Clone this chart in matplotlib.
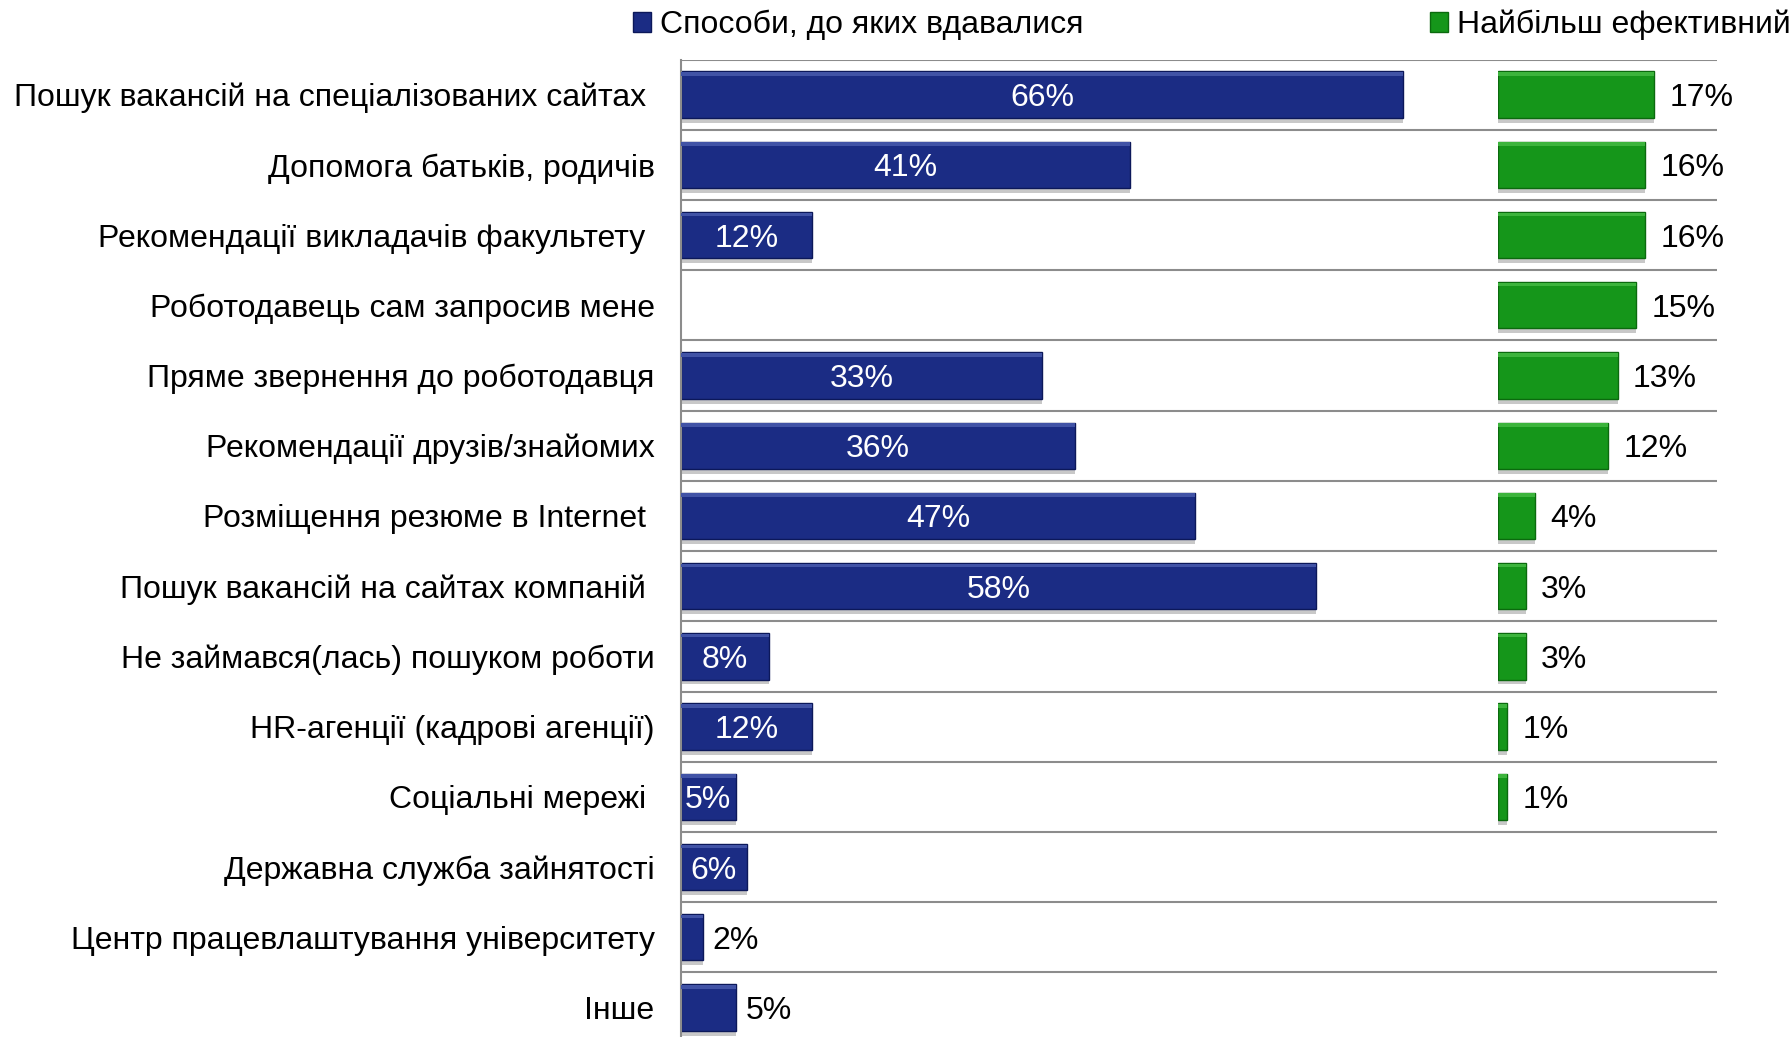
import matplotlib.pyplot as plt
import numpy as np

plt.rcParams["font.family"] = ["Liberation Sans", "DejaVu Sans"]

categories = [
    "Пошук вакансій на спеціалізованих сайтах ",
    "Допомога батьків, родичів",
    "Рекомендації викладачів факультету ",
    "Роботодавець сам запросив мене",
    "Пряме звернення до роботодавця",
    "Рекомендації друзів/знайомих",
    "Розміщення резюме в Internet ",
    "Пошук вакансій на сайтах компаній ",
    "Не займався(лась) пошуком роботи",
    "HR-агенції (кадрові агенції)",
    "Соціальні мережі ",
    "Державна служба зайнятості",
    "Центр працевлаштування університету",
    "Інше",
]
used = [66, 41, 12, np.nan, 33, 36, 47, 58, 8, 12, 5, 6, 2, 5]
best = [17, 16, 16, 15, 13, 12, 4, 3, 3, 1, 1, np.nan, np.nan, np.nan]
used_label = "Способи, до яких вдавалися"
best_label = "Найбільш ефективний"
# rows where the blue label sits outside the bar
outside = [12, 13]

blue = "#1b2c84"
blue_edge = "#0c185a"
green = "#15961a"
green_edge = "#0b6a0e"
grey = "#8c8c8c"
fs = 23

fig = plt.figure(figsize=(17.89, 10.37), dpi=100)
ax1 = fig.add_axes([681 / 1789, 0, 1036 / 1789, 1 - 59.5 / 1037])
ax2 = fig.add_axes([1498 / 1789, 0, 219 / 1789, 1 - 59.5 / 1037])

y = np.arange(len(categories))
h = 0.66

# shadows
ax1.barh(y + 0.07, used, height=h, color="#c8c8c8", zorder=1)
ax2.barh(y + 0.07, best, height=h, color="#c8c8c8", zorder=1)

b1 = ax1.barh(y, used, height=h, color=blue, edgecolor=blue_edge,
              linewidth=1, zorder=2, label=used_label)
b2 = ax2.barh(y, best, height=h, color=green, edgecolor=green_edge,
              linewidth=1, zorder=2, label=best_label)

# soft bevel on top edge
ax1.barh(y - h / 2 + 0.035, used, height=0.05, color="#4153a6", zorder=3)
ax2.barh(y - h / 2 + 0.035, best, height=0.05, color="#3cb43c", zorder=3)

for i, v in enumerate(used):
    if np.isnan(v):
        continue
    if i in outside:
        ax1.annotate(f"{v:.0f}%", (v, i), xytext=(7, 0), textcoords="offset points",
                     va="center_baseline", ha="left", fontsize=fs, color="black", zorder=4)
    else:
        ax1.text(v / 2, i, f"{v:.0f}%", va="center_baseline", ha="center",
                 fontsize=fs, color="white", zorder=4)

for i, v in enumerate(best):
    if np.isnan(v):
        continue
    ax2.annotate(f"{v:.0f}%", (v, i), xytext=(11, 0), textcoords="offset points",
                 va="center_baseline", ha="left", fontsize=fs, color="black", zorder=4)

ax1.set_xlim(0, 94.7)
ax1.set_ylim(13.42, -0.5)
ax2.set_xlim(0, 23.8)
ax2.set_ylim(13.42, -0.5)

for k in range(len(categories)):
    ax1.axhline(k - 0.5, color=grey, linewidth=1.5, zorder=0)

ax1.set_yticks(y)
ax1.set_yticklabels(categories, fontsize=fs)
ax1.tick_params(axis="y", length=0, pad=19)
ax1.set_xticks([])
for s in ["top", "right", "bottom"]:
    ax1.spines[s].set_visible(False)
ax1.spines["left"].set_color(grey)
ax1.spines["left"].set_linewidth(1.5)

ax2.axis("off")
ax2.patch.set_alpha(0)

ax1.legend(handles=[b1], loc="center left", bbox_to_anchor=(633 / 1789, 1 - 25 / 1037),
           bbox_transform=fig.transFigure, frameon=False, fontsize=fs,
           handlelength=0.55, handleheight=0.55, handletextpad=0.3,
           borderpad=0, borderaxespad=0)
ax2.legend(handles=[b2], loc="center left", bbox_to_anchor=(1430 / 1789, 1 - 25 / 1037),
           bbox_transform=fig.transFigure, frameon=False, fontsize=fs,
           handlelength=0.55, handleheight=0.55, handletextpad=0.3,
           borderpad=0, borderaxespad=0)

fig.savefig("out.png", dpi=100)
